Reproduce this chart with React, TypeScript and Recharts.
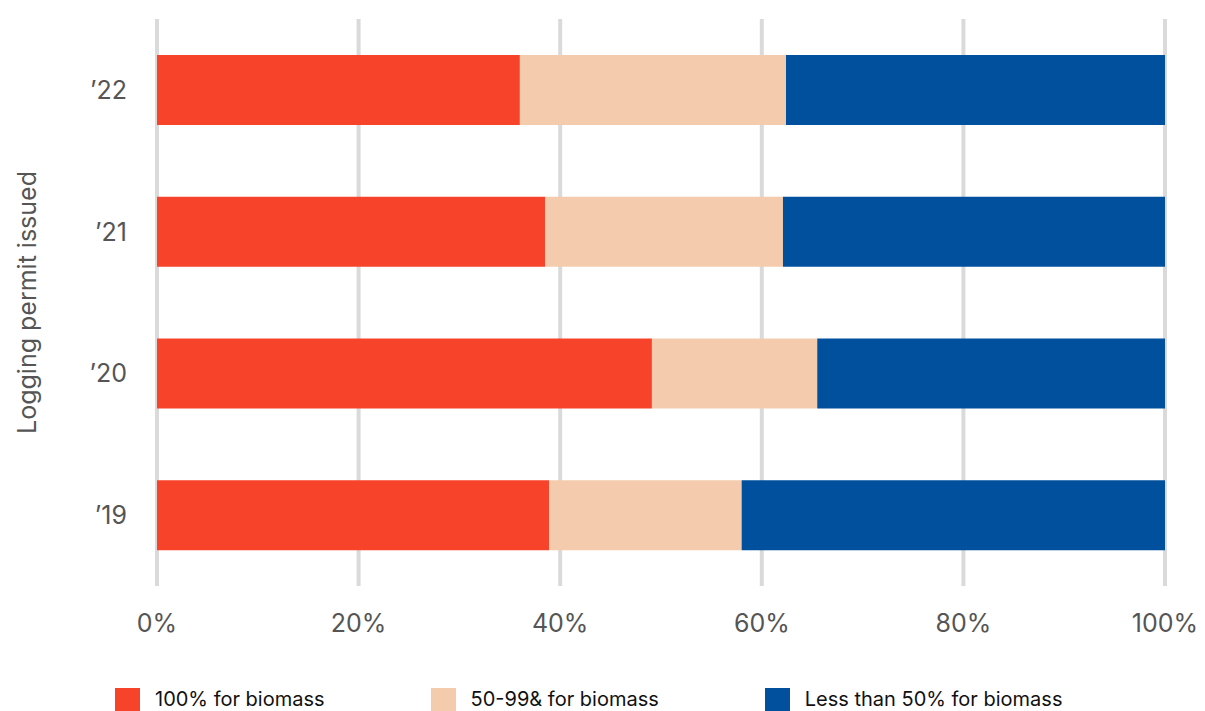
import React from 'react';
import { BarChart, Bar, XAxis, YAxis, CartesianGrid } from 'recharts';

// Share of logging permits by how much of the wood goes to biomass (percent)
const years = ['\u201922', '\u201921', '\u201920', '\u201919'];
const fullBiomass = [36.0, 38.5, 49.1, 38.9];
const partBiomass = [26.4, 23.6, 16.4, 19.1];
const lessThanHalf = [37.6, 37.9, 34.5, 42.0];
const xTicks = [0, 20, 40, 60, 80, 100];

const series = [
  { key: 'full', name: '100% for biomass', color: '#f7432a' },
  { key: 'part', name: '50-99& for biomass', color: '#f5cbad' },
  { key: 'less', name: 'Less than 50% for biomass', color: '#00509d' },
];

const data = years.map((year, i) => ({
  year,
  full: fullBiomass[i],
  part: partBiomass[i],
  less: lessThanHalf[i],
}));

const FONT = 'Inter, "Noto Sans", sans-serif';

const App = () => {
  return (
    <div style={{ position: 'absolute', left: 0, top: 0, width: 1205, height: 711, background: '#fff', fontFamily: FONT, overflow: 'hidden' }}>
      <BarChart
        width={1205}
        height={650}
        data={data}
        layout="vertical"
        margin={{ top: 19, right: 40, left: 0, bottom: 0 }}
        barSize={70}
      >
        <CartesianGrid vertical horizontal={false} stroke="#dadada" strokeWidth={4} />
        <XAxis
          type="number"
          domain={[0, 100]}
          ticks={xTicks}
          tickFormatter={(v: number) => `${v}%`}
          axisLine={false}
          tickLine={false}
          tickSize={0}
          tickMargin={28}
          height={64}
          interval={0}
          tick={{ fontSize: 25, fill: '#555', fontFamily: FONT }}
        />
        <YAxis
          type="category"
          dataKey="year"
          width={157}
          axisLine={false}
          tickLine={false}
          tickSize={0}
          tickMargin={30}
          tick={{ fontSize: 25, fill: '#555', fontFamily: FONT }}
          label={{
            value: 'Logging permit issued',
            angle: -90,
            position: 'insideLeft',
            offset: 27,
            style: { fontSize: 25, fill: '#555', fontFamily: FONT, textAnchor: 'middle' },
          }}
        />
        {series.map((s) => (
          <Bar key={s.key} dataKey={s.key} name={s.name} stackId="a" fill={s.color} isAnimationActive={false} />
        ))}
      </BarChart>
      <div style={{ position: 'absolute', left: 115, top: 688, display: 'flex', alignItems: 'center' }}>
        {series.map((s) => (
          <div key={s.key} style={{ display: 'flex', alignItems: 'center', marginRight: 106 }}>
            <div style={{ width: 25, height: 23, background: s.color }} />
            <span style={{ marginLeft: 15, fontSize: 20, color: '#111', lineHeight: '23px' }}>{s.name}</span>
          </div>
        ))}
      </div>
    </div>
  );
};

export default App;
